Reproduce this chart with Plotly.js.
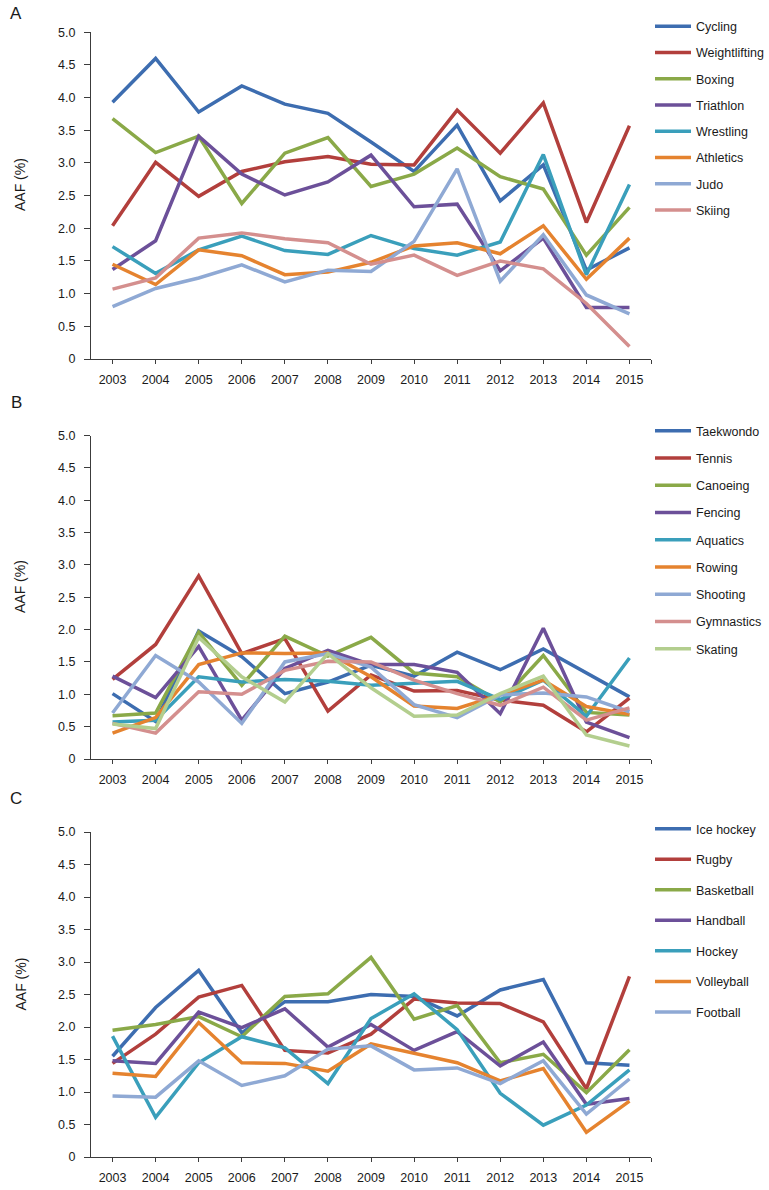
<!DOCTYPE html>
<html>
<head>
<meta charset="utf-8">
<script src="https://cdn.plot.ly/plotly-3.0.1.min.js"></script>
<style>
  html, body { margin: 0; padding: 0; background: #ffffff; overflow: hidden; }
  #wrap { width: 769px; height: 1190px; overflow: hidden; }
  #chart { width: 790px; height: 1190px; }
</style>
</head>
<body>
<div id="wrap"><div id="chart"></div></div>
<script>
// ---------- data ----------
const years = [2003, 2004, 2005, 2006, 2007, 2008, 2009, 2010, 2011, 2012, 2013, 2014, 2015];
const yearLabels = ['2003','2004','2005','2006','2007','2008','2009','2010','2011','2012','2013','2014','2015'];
const yTickVals = [0, 0.5, 1, 1.5, 2, 2.5, 3, 3.5, 4, 4.5, 5];
const yTickText = ['0','0.5','1.0','1.5','2.0','2.5','3.0','3.5','4.0','4.5','5.0'];
const panelLabels = ['A', 'B', 'C'];
const yTitle = 'AAF (%)';

// Panel A
const namesA = ['Cycling','Weightlifting','Boxing','Triathlon','Wrestling','Athletics','Judo','Skiing'];
const cycling       = [3.93, 4.60, 3.78, 4.18, 3.90, 3.76, 3.32, 2.87, 3.58, 2.42, 2.97, 1.36, 1.70];
const weightlifting = [2.04, 3.01, 2.49, 2.87, 3.02, 3.10, 2.98, 2.97, 3.81, 3.15, 3.92, 2.09, 3.57];
const boxing        = [3.68, 3.16, 3.41, 2.38, 3.15, 3.39, 2.64, 2.83, 3.23, 2.79, 2.60, 1.59, 2.32];
const triathlon     = [1.37, 1.81, 3.41, 2.83, 2.51, 2.71, 3.12, 2.33, 2.37, 1.35, 1.85, 0.79, 0.79];
const wrestling     = [1.72, 1.31, 1.67, 1.88, 1.66, 1.60, 1.89, 1.69, 1.59, 1.79, 3.13, 1.29, 2.67];
const athletics     = [1.45, 1.14, 1.67, 1.58, 1.29, 1.33, 1.48, 1.73, 1.78, 1.61, 2.04, 1.22, 1.85];
const judo          = [0.80, 1.08, 1.24, 1.44, 1.18, 1.36, 1.34, 1.80, 2.91, 1.19, 1.90, 0.98, 0.69];
const skiing        = [1.07, 1.24, 1.85, 1.93, 1.84, 1.78, 1.45, 1.59, 1.28, 1.50, 1.38, 0.85, 0.19];

// Panel B
const namesB = ['Taekwondo','Tennis','Canoeing','Fencing','Aquatics','Rowing','Shooting','Gymnastics','Skating'];
const taekwondo  = [1.01, 0.58, 1.98, 1.58, 1.01, 1.19, 1.45, 1.28, 1.65, 1.38, 1.70, 1.33, 0.96];
const tennis     = [1.23, 1.77, 2.83, 1.63, 1.86, 0.74, 1.30, 1.05, 1.06, 0.91, 0.83, 0.42, 0.94];
const canoeing   = [0.67, 0.71, 1.96, 1.14, 1.90, 1.59, 1.88, 1.33, 1.27, 0.88, 1.60, 0.72, 0.68];
const fencing    = [1.28, 0.95, 1.74, 0.60, 1.40, 1.68, 1.46, 1.46, 1.34, 0.70, 2.02, 0.57, 0.33];
const aquatics   = [0.57, 0.60, 1.27, 1.19, 1.23, 1.20, 1.14, 1.17, 1.20, 0.92, 1.22, 0.66, 1.56];
const rowing     = [0.40, 0.64, 1.46, 1.64, 1.63, 1.64, 1.27, 0.82, 0.78, 0.99, 1.22, 0.81, 0.69];
const shooting   = [0.71, 1.60, 1.19, 0.55, 1.50, 1.63, 1.42, 0.84, 0.64, 0.99, 1.02, 0.96, 0.73];
const gymnastics = [0.55, 0.40, 1.04, 1.00, 1.37, 1.51, 1.50, 1.22, 1.01, 0.83, 1.11, 0.60, 0.79];
const skating    = [0.54, 0.47, 1.88, 1.27, 0.88, 1.63, 1.10, 0.66, 0.68, 1.01, 1.28, 0.37, 0.20];

// Panel C
const namesC = ['Ice hockey','Rugby','Basketball','Handball','Hockey','Volleyball','Football'];
const iceHockey  = [1.55, 2.30, 2.87, 1.91, 2.39, 2.39, 2.50, 2.47, 2.17, 2.57, 2.73, 1.45, 1.41];
const rugby      = [1.44, 1.89, 2.46, 2.64, 1.64, 1.60, 1.89, 2.43, 2.37, 2.36, 2.08, 1.05, 2.78];
const basketball = [1.95, 2.04, 2.16, 1.85, 2.47, 2.51, 3.07, 2.12, 2.33, 1.45, 1.58, 0.99, 1.65];
const handball   = [1.48, 1.44, 2.23, 1.99, 2.28, 1.69, 2.04, 1.64, 1.93, 1.40, 1.77, 0.81, 0.90];
const hockey     = [1.86, 0.61, 1.45, 1.85, 1.68, 1.13, 2.13, 2.51, 1.96, 0.98, 0.49, 0.80, 1.34];
const volleyball = [1.29, 1.24, 2.07, 1.45, 1.44, 1.32, 1.74, 1.59, 1.45, 1.17, 1.36, 0.38, 0.86];
const football   = [0.94, 0.92, 1.48, 1.10, 1.25, 1.66, 1.71, 1.34, 1.37, 1.13, 1.48, 0.66, 1.20];

const palette = ['#3d6db0','#b23f3c','#8aa948','#6c5099','#3a9fbb','#e5832f','#8fa9d4','#d48f8e','#b3ce8e'];

// ---------- build ----------
const panels = [
  { names: namesA, series: [cycling, weightlifting, boxing, triathlon, wrestling, athletics, judo, skiing] },
  { names: namesB, series: [taekwondo, tennis, canoeing, fencing, aquatics, rowing, shooting, gymnastics, skating] },
  { names: namesC, series: [iceHockey, rugby, basketball, handball, hockey, volleyball, football] }
];

const axisColor = '#3c3c3c';
const textColor = '#1a1a1a';
const fontFamily = 'Liberation Sans, Arial, sans-serif';

// figure is slightly wider than the 769px view so the legend is not pushed left
const W = 790, H = 1190;
const M = { l: 91, r: W - 651, t: 32, b: 33 };
const plotW = W - M.l - M.r;
const plotH = H - M.t - M.b;
const pyToPaper = (py) => (H - M.b - py) / plotH;
const pxToPaper = (px) => (px - M.l) / plotW;

// pixel geometry of each panel [top, bottom]
const panelPix = [[32.3, 359], [435.5, 759], [832, 1157]];
const legendTopPix = [11.5, 416, 814];
const legendGap = [7, 8, 11.3];
const letterPix = [14, 402.5, 798.5];
const titlePix = [185, 587, 984.5];

const traces = [];
const layout = {
  width: W, height: H,
  margin: M,
  paper_bgcolor: '#ffffff',
  plot_bgcolor: '#ffffff',
  font: { family: fontFamily, size: 12.5, color: textColor },
  showlegend: true,
  annotations: [],
};

const xTickVals = years.concat([2015.5]);
const xTickText = yearLabels.concat(['']);

panels.forEach((p, k) => {
  const sfx = k === 0 ? '' : String(k + 1);
  const legendName = 'legend' + sfx;
  p.series.forEach((vals, j) => {
    traces.push({
      type: 'scatter', mode: 'lines',
      x: years, y: vals,
      name: p.names[j],
      xaxis: 'x' + sfx, yaxis: 'y' + sfx,
      legend: legendName,
      legendgroup: 'g' + k + '_' + j,
      line: { color: palette[j], width: 3.5 },
      hoverinfo: 'x+y+name'
    });
  });

  const top = panelPix[k][0], bot = panelPix[k][1];
  layout['xaxis' + sfx] = {
    domain: [0, 1],
    anchor: 'y' + sfx,
    type: 'linear',
    range: [2002.5, 2015.5],
    tickmode: 'array',
    tickvals: xTickVals,
    ticktext: xTickText,
    ticks: 'outside', ticklen: 4, tickwidth: 1.3, tickcolor: axisColor,
    ticklabelstandoff: 5,
    showline: true, linecolor: axisColor, linewidth: 1.3,
    showgrid: false, zeroline: false,
    automargin: false,
    tickfont: { family: fontFamily, size: 12.5, color: textColor }
  };
  layout['yaxis' + sfx] = {
    domain: [pyToPaper(bot), Math.min(1, pyToPaper(top))],
    anchor: 'x' + sfx,
    range: [0, 5],
    tickmode: 'array',
    tickvals: yTickVals,
    ticktext: yTickText,
    ticks: 'outside', ticklen: 6, tickwidth: 1.3, tickcolor: axisColor,
    ticklabelstandoff: 6,
    showline: true, linecolor: axisColor, linewidth: 1.3,
    showgrid: false, zeroline: false,
    automargin: false,
    tickfont: { family: fontFamily, size: 12.5, color: textColor }
  };
  layout[legendName] = {
    x: pxToPaper(650), xanchor: 'left', xref: 'paper',
    y: pyToPaper(legendTopPix[k]), yanchor: 'top', yref: 'paper',
    traceorder: 'grouped',
    tracegroupgap: legendGap[k],
    bgcolor: 'rgba(0,0,0,0)',
    borderwidth: 0,
    itemwidth: 36,
    font: { family: fontFamily, size: 12.5, color: textColor }
  };
  layout.annotations.push({
    text: panelLabels[k], xref: 'paper', yref: 'paper',
    x: pxToPaper(16), y: pyToPaper(letterPix[k]),
    xanchor: 'center', yanchor: 'middle', showarrow: false,
    font: { family: fontFamily, size: 17, color: textColor }
  });
  layout.annotations.push({
    text: yTitle, xref: 'paper', yref: 'paper',
    x: pxToPaper(20), y: pyToPaper(titlePix[k]),
    xanchor: 'center', yanchor: 'middle', showarrow: false,
    textangle: -90,
    font: { family: fontFamily, size: 14, color: textColor }
  });
});

Plotly.newPlot('chart', traces, layout, { displayModeBar: false, responsive: false });
</script>
</body>
</html>
